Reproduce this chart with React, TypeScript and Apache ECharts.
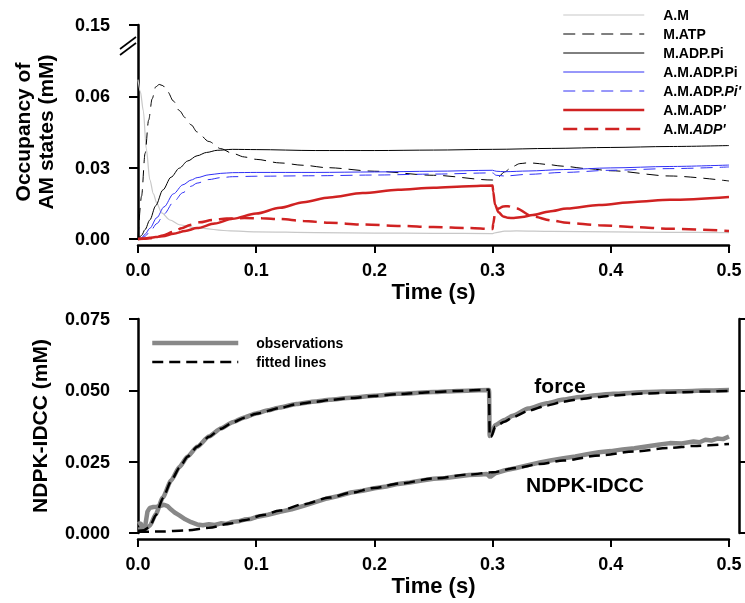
import React, { useEffect, useRef } from "react";
import * as echarts from "echarts";

const FONT = "'Liberation Sans', Arial, Helvetica, sans-serif";

// ---- tick labels ----
const xTickLabels = ["0.0", "0.1", "0.2", "0.3", "0.4", "0.5"];
const topYTickLabels = ["0.00", "0.03", "0.06", "0.15"]; // axis broken above 0.06
const bottomYTickLabels = ["0.000", "0.025", "0.050", "0.075"];

// ---- top panel: occupancy of AM states (mM) vs time (s) ----
const tAM = [0, 0.002, 0.0045, 0.007, 0.01, 0.013, 0.016, 0.02, 0.027, 0.035, 0.05, 0.078, 0.1, 0.15, 0.2, 0.25, 0.3, 0.303, 0.31, 0.32, 0.35, 0.4, 0.45, 0.5];
const vAM = [0.067, 0.062, 0.054, 0.038, 0.025, 0.019, 0.015, 0.011, 0.008, 0.006, 0.0046, 0.0034, 0.003, 0.0027, 0.0025, 0.0024, 0.0023, 0.0027, 0.0033, 0.0034, 0.0032, 0.003, 0.0028, 0.0027];

const tMATP = [0, 0.003, 0.006, 0.009, 0.012, 0.015, 0.018, 0.021, 0.025, 0.03, 0.035, 0.04, 0.045, 0.05, 0.06, 0.07, 0.08, 0.09, 0.1, 0.12, 0.14, 0.16, 0.2, 0.25, 0.3, 0.305, 0.31, 0.317, 0.323, 0.329, 0.335, 0.345, 0.36, 0.38, 0.4, 0.45, 0.5];
const vMATP = [0, 0.018, 0.036, 0.05, 0.059, 0.064, 0.065, 0.0645, 0.062, 0.058, 0.054, 0.051, 0.048, 0.045, 0.041, 0.038, 0.036, 0.0345, 0.0335, 0.032, 0.031, 0.03, 0.0285, 0.0268, 0.0248, 0.0262, 0.0282, 0.0305, 0.0317, 0.032, 0.0319, 0.0314, 0.0306, 0.0296, 0.0287, 0.0265, 0.0244];

const tMADPPi = [0, 0.003, 0.006, 0.01, 0.015, 0.021, 0.028, 0.035, 0.042, 0.05, 0.058, 0.067, 0.08, 0.1, 0.15, 0.2, 0.25, 0.3, 0.35, 0.4, 0.45, 0.5];
const vMADPPi = [0, 0.0015, 0.004, 0.008, 0.014, 0.0206, 0.026, 0.0298, 0.0328, 0.035, 0.0364, 0.0373, 0.0377, 0.0376, 0.0372, 0.0372, 0.0374, 0.0377, 0.0381, 0.0385, 0.0389, 0.0393];

const tAMADPPi = [0, 0.003, 0.006, 0.01, 0.016, 0.022, 0.03, 0.038, 0.045, 0.05, 0.06, 0.07, 0.08, 0.1, 0.15, 0.2, 0.25, 0.3, 0.303, 0.31, 0.33, 0.36, 0.4, 0.45, 0.5];
const vAMADPPi = [0, 0.0005, 0.002, 0.0045, 0.009, 0.0135, 0.019, 0.0228, 0.0248, 0.0258, 0.027, 0.0276, 0.0279, 0.028, 0.028, 0.0282, 0.0285, 0.0289, 0.0285, 0.0283, 0.0286, 0.0292, 0.0299, 0.0305, 0.0311];
const vAMADPPiPrime = [0, 0.0003, 0.0012, 0.003, 0.0065, 0.0105, 0.0155, 0.0195, 0.0222, 0.0235, 0.025, 0.0258, 0.0262, 0.0264, 0.0266, 0.0269, 0.0273, 0.0278, 0.0268, 0.0265, 0.0272, 0.028, 0.0289, 0.0296, 0.0303];

const tAMADPa = [0, 0.005, 0.01, 0.015, 0.021, 0.03, 0.04, 0.05, 0.065, 0.08, 0.1, 0.12, 0.14, 0.162, 0.19, 0.22, 0.25, 0.28, 0.3, 0.3005, 0.302, 0.305, 0.309, 0.313, 0.318, 0.325, 0.334, 0.348, 0.363, 0.39, 0.42, 0.45, 0.5];
const vAMADPa = [0, 0.0002, 0.0005, 0.0008, 0.0012, 0.0022, 0.0034, 0.0046, 0.0065, 0.0085, 0.0107, 0.0131, 0.0155, 0.0175, 0.0193, 0.0207, 0.0216, 0.0222, 0.0225, 0.02, 0.0145, 0.0112, 0.0095, 0.0089, 0.0088, 0.0092, 0.0101, 0.0116, 0.0128, 0.0143, 0.0156, 0.0165, 0.0177];

const tAMADPb = [0, 0.005, 0.01, 0.015, 0.021, 0.03, 0.037, 0.044, 0.052, 0.063, 0.075, 0.09, 0.105, 0.12, 0.14, 0.162, 0.19, 0.222, 0.25, 0.28, 0.3, 0.3005, 0.302, 0.305, 0.309, 0.313, 0.32, 0.334, 0.35, 0.363, 0.39, 0.42, 0.45, 0.5];
const vAMADPb = [0, 0.0001, 0.0003, 0.0007, 0.0015, 0.003, 0.0045, 0.0059, 0.007, 0.008, 0.0086, 0.0088, 0.0087, 0.0084, 0.0076, 0.0068, 0.0061, 0.0055, 0.005, 0.0046, 0.0042, 0.0065, 0.0105, 0.0128, 0.0137, 0.0138, 0.0128, 0.0095, 0.0078, 0.0068, 0.0058, 0.005, 0.0043, 0.0034];

// ---- bottom panel: NDPK-IDCC (mM) vs time (s) ----
const tForceFit = [0, 0.005, 0.01, 0.015, 0.021, 0.028, 0.035, 0.042, 0.05, 0.06, 0.07, 0.08, 0.09, 0.1, 0.12, 0.134, 0.15, 0.162, 0.18, 0.2, 0.22, 0.25, 0.27, 0.297, 0.2975, 0.299, 0.302, 0.31, 0.317, 0.33, 0.346, 0.36, 0.374, 0.39, 0.402, 0.43, 0.458, 0.48, 0.5];
const vForceFit = [0.0008, 0.001, 0.0022, 0.0062, 0.0122, 0.0182, 0.0229, 0.0268, 0.0302, 0.0337, 0.0365, 0.0387, 0.0404, 0.0418, 0.0438, 0.0451, 0.046, 0.0466, 0.0473, 0.048, 0.0487, 0.0494, 0.0498, 0.0502, 0.0337, 0.0338, 0.0372, 0.039, 0.0405, 0.0428, 0.0447, 0.046, 0.047, 0.0477, 0.0482, 0.0489, 0.0493, 0.0496, 0.0498];

const tForceObs = [0, 0.005, 0.01, 0.015, 0.021, 0.028, 0.035, 0.042, 0.05, 0.06, 0.07, 0.08, 0.09, 0.1, 0.11, 0.12, 0.134, 0.15, 0.162, 0.18, 0.2, 0.22, 0.25, 0.27, 0.297, 0.2975, 0.299, 0.302, 0.31, 0.317, 0.33, 0.346, 0.36, 0.374, 0.39, 0.402, 0.43, 0.458, 0.48, 0.5];
const vForceObs = [0.0012, 0.0011, 0.0025, 0.0066, 0.0124, 0.0184, 0.0231, 0.0268, 0.0302, 0.0338, 0.0366, 0.0388, 0.0405, 0.0419, 0.043, 0.044, 0.0452, 0.0461, 0.0467, 0.0474, 0.0481, 0.0488, 0.0494, 0.0498, 0.0501, 0.034, 0.0345, 0.0378, 0.0396, 0.0411, 0.0436, 0.0455, 0.0468, 0.0477, 0.0484, 0.0488, 0.0494, 0.0497, 0.0499, 0.0501];

const tNdpkFit = [0, 0.02, 0.04, 0.06, 0.078, 0.09, 0.106, 0.12, 0.14, 0.162, 0.18, 0.2, 0.222, 0.25, 0.28, 0.3, 0.32, 0.34, 0.36, 0.391, 0.42, 0.45, 0.47, 0.5];
const vNdpkFit = [0.0004, 0.0005, 0.0009, 0.0018, 0.0033, 0.0045, 0.0063, 0.0079, 0.0101, 0.0124, 0.0141, 0.0158, 0.0174, 0.0191, 0.0205, 0.0213, 0.0228, 0.0242, 0.0254, 0.0272, 0.0286, 0.0298, 0.0305, 0.0312];

const tNdpkObs = [0, 0.002, 0.004, 0.006, 0.008, 0.01, 0.013, 0.016, 0.019, 0.022, 0.025, 0.028, 0.031, 0.035, 0.04, 0.045, 0.05, 0.055, 0.06, 0.065, 0.07, 0.075, 0.08, 0.085, 0.09, 0.095, 0.1, 0.11, 0.12, 0.13, 0.14, 0.15, 0.16, 0.17, 0.18, 0.19, 0.2, 0.21, 0.22, 0.23, 0.24, 0.25, 0.26, 0.27, 0.28, 0.29, 0.295, 0.298, 0.302, 0.31, 0.32, 0.33, 0.34, 0.35, 0.36, 0.37, 0.38, 0.39, 0.4, 0.41, 0.42, 0.43, 0.44, 0.45, 0.46, 0.47, 0.475, 0.48, 0.485, 0.49, 0.495, 0.5];
const vNdpkObs = [0.003, 0.0035, 0.0018, 0.0022, 0.0075, 0.0088, 0.0091, 0.0092, 0.0095, 0.0099, 0.0094, 0.0082, 0.0072, 0.0062, 0.0048, 0.0038, 0.003, 0.0027, 0.0031, 0.0028, 0.0034, 0.0032, 0.0039, 0.0041, 0.0047, 0.0049, 0.0056, 0.0064, 0.0074, 0.0083, 0.0095, 0.0108, 0.0121, 0.013, 0.0142, 0.0148, 0.0157, 0.0163, 0.0172, 0.0177, 0.0184, 0.019, 0.0193, 0.0198, 0.0203, 0.0205, 0.0207, 0.0196, 0.0209, 0.0219, 0.0228, 0.0238, 0.0247, 0.0255, 0.0262, 0.0268, 0.0276, 0.0283, 0.0287, 0.0293, 0.0297, 0.0303, 0.0309, 0.0315, 0.0314, 0.0321, 0.0318, 0.0327, 0.0324, 0.0331, 0.0329, 0.0338];

// legend names (internal) -> rich labels
const topNames = ["A.M", "M.ATP", "M.ADP.Pi", "A.M.ADP.Pi", "A.M.ADP.Pi'", "A.M.ADP'", "A.M.ADP' (b)"];
const topLabels: Record<string, string> = {
  "A.M": "A.M",
  "M.ATP": "M.ATP",
  "M.ADP.Pi": "M.ADP.Pi",
  "A.M.ADP.Pi": "A.M.ADP.Pi",
  "A.M.ADP.Pi'": "A.M.ADP.{i|Pi'}",
  "A.M.ADP'": "A.M.ADP{i|'}",
  "A.M.ADP' (b)": "A.M.{i|ADP'}",
};
const bottomNames = ["observations", "fitted lines"];

const zip = (t: number[], v: number[]) => t.map((x, i) => [x, v[i]]);

export default function App() {
  const ref = useRef<HTMLDivElement>(null);
  useEffect(() => {
    if (!ref.current) return;
    const chart = echarts.init(ref.current, null, { renderer: "svg" });
    const bold = { fontFamily: FONT, fontWeight: "bold" as const, color: "#000" };

    const xAxisBase = (gridIndex: number) => ({
      type: "value",
      gridIndex,
      min: 0,
      max: 0.5,
      interval: 0.1,
      offset: 6,
      axisLine: { show: true, onZero: false, lineStyle: { color: "#000", width: 2.5 } },
      axisTick: { show: true, inside: false, length: 8, lineStyle: { color: "#000", width: 2 } },
      axisLabel: { ...bold, fontSize: 18, margin: 16, formatter: (v: number) => xTickLabels[Math.round(v * 10)] },
      splitLine: { show: false },
      name: "Time (s)",
      nameLocation: "middle",
      nameGap: 35,
      nameTextStyle: { ...bold, fontSize: 22 },
    });

    const line = (name: string, data: number[][], color: string, width: number, type: any, x: number, z = 2, smooth: any = 0.3) => ({
      type: "line",
      name,
      data,
      xAxisIndex: x,
      yAxisIndex: x,
      symbol: "none",
      showSymbol: false,
      smooth,
      smoothMonotone: "x",
      clip: false,
      z,
      lineStyle: { color, width, type },
      itemStyle: { color },
    });

    const blue = "#3030f5";
    const red = "#d02222";

    chart.setOption({
      animation: false,
      textStyle: { fontFamily: FONT },
      grid: [
        { left: 138, top: 25, width: 591, height: 214 },
        { left: 138, top: 319, width: 591, height: 214 },
      ],
      xAxis: [xAxisBase(0), xAxisBase(1)],
      yAxis: [
        {
          type: "value",
          gridIndex: 0,
          min: 0,
          max: 0.09,
          interval: 0.03,
          offset: 10,
          axisLine: { show: true, lineStyle: { color: "#000", width: 2.5 } },
          axisTick: { show: true, inside: false, length: 9, lineStyle: { color: "#000", width: 2 } },
          axisLabel: { ...bold, fontSize: 18, margin: 18, formatter: (v: number) => topYTickLabels[Math.round(v / 0.03)] },
          splitLine: { show: false },
          name: "Occupancy of\nAM states (mM)",
          nameLocation: "middle",
          nameRotate: 90,
          nameGap: 71,
          nameTextStyle: { ...bold, fontSize: 21, lineHeight: 23 },
        },
        {
          type: "value",
          gridIndex: 1,
          min: 0,
          max: 0.075,
          interval: 0.025,
          offset: 10,
          axisLine: { show: true, lineStyle: { color: "#000", width: 2.5 } },
          axisTick: { show: true, inside: false, length: 9, lineStyle: { color: "#000", width: 2 } },
          axisLabel: { ...bold, fontSize: 18, margin: 18, formatter: (v: number) => bottomYTickLabels[Math.round(v / 0.025)] },
          splitLine: { show: false },
          name: "NDPK-IDCC (mM)",
          nameLocation: "middle",
          nameRotate: 90,
          nameGap: 78,
          nameTextStyle: { ...bold, fontSize: 21 },
        },
        {
          type: "value",
          gridIndex: 1,
          position: "right",
          min: 0,
          max: 0.075,
          interval: 0.025,
          offset: 10,
          axisLine: { show: true, lineStyle: { color: "#000", width: 2.5 } },
          axisTick: { show: true, inside: false, length: 9, lineStyle: { color: "#000", width: 2 } },
          axisLabel: { show: false },
          splitLine: { show: false },
        },
      ],
      legend: [
        {
          data: topNames,
          orient: "vertical",
          left: 562,
          top: 8,
          padding: 0,
          itemWidth: 81,
          itemHeight: 14,
          itemGap: 5,
          selectedMode: false,
          itemStyle: { opacity: 0 },
          lineStyle: { width: "inherit" },
          formatter: (n: string) => topLabels[n] ?? n,
          textStyle: {
            ...bold,
            fontSize: 14,
            lineHeight: 14,
            padding: [0, 0, 0, 14],
            rich: { i: { fontFamily: FONT, fontWeight: "bold", fontStyle: "italic", fontSize: 14, lineHeight: 14, color: "#000" } },
          },
        },
        {
          data: bottomNames,
          orient: "vertical",
          left: 150,
          top: 336,
          padding: 0,
          itemWidth: 86,
          itemHeight: 14,
          itemGap: 5,
          selectedMode: false,
          itemStyle: { opacity: 0 },
          lineStyle: { width: "inherit" },
          textStyle: { ...bold, fontSize: 14, lineHeight: 14, padding: [0, 0, 0, 13] },
        },
      ],
      graphic: [
        { type: "rect", shape: { x: 123, y: 42, width: 10, height: 7 }, style: { fill: "#fff" }, z: 100 },
        { type: "line", shape: { x1: 120, y1: 49, x2: 136, y2: 37 }, style: { stroke: "#000", lineWidth: 1.6 }, z: 101 },
        { type: "line", shape: { x1: 120, y1: 55, x2: 136, y2: 43 }, style: { stroke: "#000", lineWidth: 1.6 }, z: 101 },
        { type: "text", x: 560, y: 385, style: { text: "force", fontFamily: FONT, fontWeight: "bold", fontSize: 21, fill: "#000", align: "center", verticalAlign: "middle" }, z: 50 },
        { type: "text", x: 585, y: 484, style: { text: "NDPK-IDCC", fontFamily: FONT, fontWeight: "bold", fontSize: 21, fill: "#000", align: "center", verticalAlign: "middle" }, z: 50 },
      ],
      series: [
        line("A.M", zip(tAM, vAM), "#c8c8c8", 1.2, "solid", 0),
        line("M.ATP", zip(tMATP, vMATP), "#000", 1, [12, 7], 0),
        line("M.ADP.Pi", zip(tMADPPi, vMADPPi), "#000", 1, "solid", 0),
        line("A.M.ADP.Pi", zip(tAMADPPi, vAMADPPi), blue, 1, "solid", 0),
        line("A.M.ADP.Pi'", zip(tAMADPPi, vAMADPPiPrime), blue, 1, [12, 7], 0),
        line("A.M.ADP'", zip(tAMADPa, vAMADPa), red, 2.5, "solid", 0, 3),
        line("A.M.ADP' (b)", zip(tAMADPb, vAMADPb), red, 2.5, [14, 7], 0, 3),
        line("observations", zip(tForceObs, vForceObs), "#888888", 4.5, "solid", 1, 2, 0.2),
        line("observations", zip(tNdpkObs, vNdpkObs), "#888888", 4.5, "solid", 1, 2, false),
        line("fitted lines", zip(tForceFit, vForceFit), "#000", 2.5, [11, 6], 1, 3, 0.2),
        line("fitted lines", zip(tNdpkFit, vNdpkFit), "#000", 2.5, [11, 6], 1, 3, 0.3),
      ],
    });
    return () => chart.dispose();
  }, []);
  return <div ref={ref} style={{ position: "fixed", left: 0, top: 0, width: 745, height: 603 }} />;
}
